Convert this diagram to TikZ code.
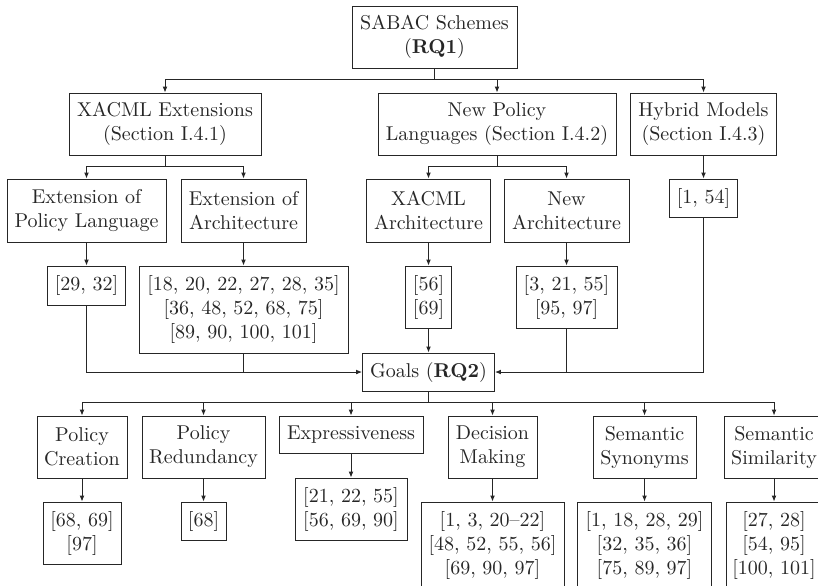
\documentclass[tikz,border=0pt]{standalone}
\usetikzlibrary{arrows.meta}
\newcommand{\nl}{\\\relax}
\begin{document}
\begin{tikzpicture}[x=0.5pt, y=-0.5pt,
  line width=0.45pt,
  every node/.style={font=\fontsize{10}{12}\selectfont, text=black!85},
  box/.style 2 args={draw=black!85, align=center, inner sep=0pt,
    minimum width=#1*0.5pt, minimum height=#2*0.5pt},
  arr/.style={draw=black!85, -{Latex[length=3pt,width=2.4pt]}},
  ln/.style={draw=black!85}]
\useasboundingbox (0,0) rectangle (818,585);
\clip (0,0) rectangle (818,585);

% schemes level
\node[box={165}{62}] (sabac) at (434.5,37) {SABAC Schemes\\(\textbf{RQ1})};
\node[box={192}{62}] (xext) at (165,124) {XACML Extensions\\(Section I.4.1)};
\node[box={238}{62}] (newpol) at (497,124) {New Policy\\Languages (Section I.4.2)};
\node[box={146}{62}] (hybrid) at (703.5,124) {Hybrid Models\\(Section I.4.3)};

\node[box={159}{63}] (extpol) at (86.5,210.5) {Extension of\\Policy Language};
\node[box={125}{63}] (extarch) at (243.5,210.5) {Extension of\\Architecture};
\node[box={124}{63}] (xarch) at (428.5,210.5) {XACML\\Architecture};
\node[box={125}{63}] (newarch) at (566.5,210.5) {New\\Architecture};
\node[box={68}{38}] (r154) at (703.5,198) {[1, 54]};

\node[box={78}{39}] (r2932) at (86.5,285.5) {[29, 32]};
\node[box={209}{87}] (rbig) at (243.5,309.5) {[18, 20, 22, 27, 28, 35]\nl[36, 48, 52, 68, 75]\nl[89, 90, 100, 101]};
\node[box={46}{62}] (r5669) at (428.5,297) {[56]\nl[69]};
\node[box={101}{62}] (r321) at (566.5,297) {[3, 21, 55]\nl[95, 97]};

\node[box={132}{38}] (goals) at (428.5,372) {Goals (\textbf{RQ2})};

% goals level
\node[box={90}{62}] (pc) at (82,447) {Policy\\Creation};
\node[box={123}{62}] (pr) at (203.5,447) {Policy\\Redundancy};
\node[box={144}{37}] (ex) at (351,434.5) {Expressiveness};
\node[box={89}{62}] (dm) at (492.5,447) {Decision\\Making};
\node[box={103}{62}] (ss) at (644.5,447) {Semantic\\Synonyms};
\node[box={100}{62}] (sim) at (774,447) {Semantic\\Similarity};

\node[box={78}{62}] (lpc) at (82,533) {[68, 69]\nl[97]};
\node[box={45}{38}] (lpr) at (203.5,521) {[68]};
\node[box={112}{62}] (lex) at (351,509) {[21, 22, 55]\nl[56, 69, 90]};
\node[box={143}{86}] (ldm) at (492.5,545) {[1, 3, 20--22]\nl[48, 52, 55, 56]\nl[69, 90, 97]};
\node[box={134}{86}] (lss) at (644.5,545) {[1, 18, 28, 29]\nl[32, 35, 36]\nl[75, 89, 97]};
\node[box={96}{86}] (lsim) at (774,545) {[27, 28]\nl[54, 95]\nl[100, 101]};

% bus junctions just below each parent
\path (sabac.south) ++(0,11) coordinate (b1);
\path (xext.south) ++(0,11) coordinate (b2a);
\path (newpol.south) ++(0,11) coordinate (b2b);
\path (goals.south) ++(0,11) coordinate (b3);

% schemes to categories
\draw[ln] (sabac.south) -- (b1);
\draw[arr] (b1) -| (xext.north);
\draw[arr] (b1) -| (newpol.north);
\draw[arr] (b1) -| (hybrid.north);

\draw[ln] (xext.south) -- (b2a);
\draw[arr] (b2a) -| (extpol.north);
\draw[arr] (b2a) -| (extarch.north);
\draw[ln] (newpol.south) -- (b2b);
\draw[arr] (b2b) -| (xarch.north);
\draw[arr] (b2b) -| (newarch.north);
\draw[arr] (hybrid.south) -- (r154.north);

\draw[arr] (extpol.south) -- (r2932.north);
\draw[arr] (extarch.south) -- (rbig.north);
\draw[arr] (xarch.south) -- (r5669.north);
\draw[arr] (newarch.south) -- (r321.north);

% references into goals
\draw[arr] (r2932.south) |- (goals.west);
\draw[ln] (rbig.south) -- (rbig.south |- goals.west);
\draw[arr] (r5669.south) -- (goals.north);
\draw[arr] (r154.south) |- (goals.east);
\draw[ln] (r321.south) -- (r321.south |- goals.east);

% goals to goal types
\draw[ln] (goals.south) -- (b3);
\draw[arr] (b3) -| (pc.north);
\draw[arr] (b3) -| (pr.north);
\draw[arr] (b3) -| (ex.north);
\draw[arr] (b3) -| (dm.north);
\draw[arr] (b3) -| (ss.north);
\draw[arr] (b3) -| (sim.north);

\draw[arr] (pc.south) -- (lpc.north);
\draw[arr] (pr.south) -- (lpr.north);
\draw[arr] (ex.south) -- (lex.north);
\draw[arr] (dm.south) -- (ldm.north);
\draw[arr] (ss.south) -- (lss.north);
\draw[arr] (sim.south) -- (lsim.north);
\end{tikzpicture}
\end{document}
